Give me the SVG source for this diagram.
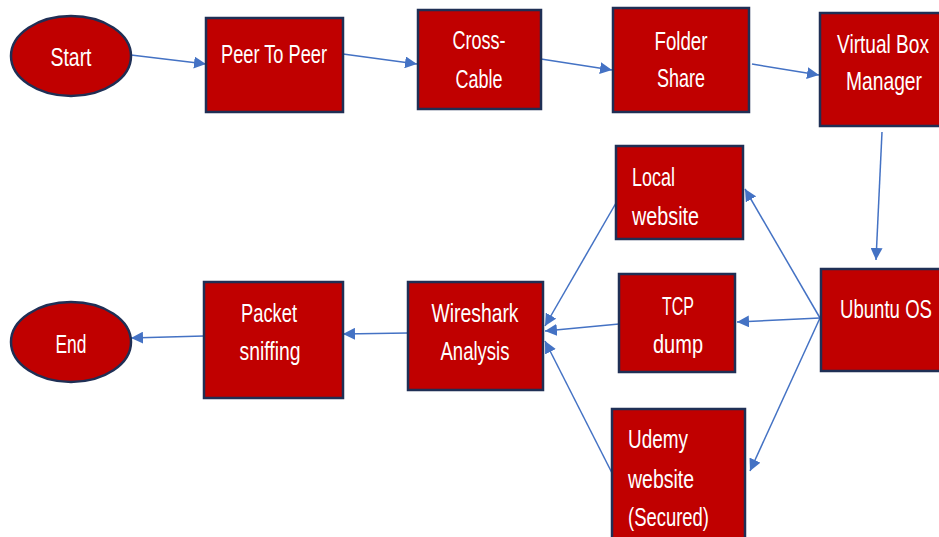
<svg xmlns="http://www.w3.org/2000/svg" width="939" height="537" viewBox="0 0 939 537">
<style>
.n{fill:#C00000;stroke:#1F2F55;stroke-width:2.5}
.t{fill:#fff;font-family:"Liberation Sans",sans-serif;font-size:26px}
.m{text-anchor:middle}
.c{stroke:#4472C4;stroke-width:1.5;fill:none;marker-end:url(#a)}
</style>
<defs>
<marker id="a" viewBox="0 0 10 10" refX="10" refY="5" markerWidth="12" markerHeight="12" markerUnits="userSpaceOnUse" orient="auto">
<path d="M0,0 L10,5 L0,10 z" fill="#4472C4"/>
</marker>
</defs>
<g id="connectors">
<line class="c" x1="131" y1="55" x2="206" y2="64"/>
<line class="c" x1="343" y1="54" x2="417" y2="64"/>
<line class="c" x1="541" y1="59" x2="612" y2="70"/>
<line class="c" x1="752" y1="64" x2="819" y2="75"/>
<line class="c" x1="882" y1="132" x2="876" y2="260"/>
<line class="c" x1="820" y1="318" x2="745" y2="189"/>
<line class="c" x1="820" y1="318" x2="737" y2="322"/>
<line class="c" x1="820" y1="318" x2="750" y2="471"/>
<line class="c" x1="616" y1="203" x2="545" y2="326"/>
<line class="c" x1="619" y1="324" x2="545" y2="331"/>
<line class="c" x1="612" y1="473" x2="545" y2="341"/>
<line class="c" x1="408" y1="333" x2="343" y2="334"/>
<line class="c" x1="204" y1="336" x2="131" y2="338"/>
</g>
<g id="start"><ellipse class="n" cx="71" cy="56" rx="60" ry="40"/><text class="t m" x="71" y="66" textLength="41" lengthAdjust="spacingAndGlyphs">Start</text></g>
<g id="peer"><rect class="n" x="206" y="18" width="137" height="94"/><text class="t m" x="274" y="63" textLength="106" lengthAdjust="spacingAndGlyphs">Peer To Peer</text></g>
<g id="cross"><rect class="n" x="418" y="10" width="123" height="99"/><text class="t m" x="479" y="49" textLength="53" lengthAdjust="spacingAndGlyphs">Cross-</text><text class="t m" x="479" y="88" textLength="47" lengthAdjust="spacingAndGlyphs">Cable</text></g>
<g id="folder"><rect class="n" x="613" y="8" width="136" height="104"/><text class="t m" x="681" y="50" textLength="53" lengthAdjust="spacingAndGlyphs">Folder</text><text class="t m" x="681" y="87" textLength="48" lengthAdjust="spacingAndGlyphs">Share</text></g>
<g id="vbm"><rect class="n" x="820" y="13" width="125" height="113"/><text class="t m" x="883" y="53" textLength="92" lengthAdjust="spacingAndGlyphs">Virtual Box</text><text class="t m" x="884" y="90" textLength="76" lengthAdjust="spacingAndGlyphs">Manager</text></g>
<g id="local"><rect class="n" x="616" y="146" width="127" height="93"/><text class="t" x="632" y="186" textLength="43" lengthAdjust="spacingAndGlyphs">Local</text><text class="t" x="632" y="225" textLength="67" lengthAdjust="spacingAndGlyphs">website</text></g>
<g id="tcp"><rect class="n" x="619" y="274" width="116" height="98"/><text class="t m" x="678" y="315" textLength="32" lengthAdjust="spacingAndGlyphs">TCP</text><text class="t m" x="678" y="353" textLength="50" lengthAdjust="spacingAndGlyphs">dump</text></g>
<g id="ubuntu"><rect class="n" x="821" y="269" width="125" height="102"/><text class="t" x="840" y="318" textLength="92" lengthAdjust="spacingAndGlyphs">Ubuntu OS</text></g>
<g id="udemy"><rect class="n" x="612" y="409" width="133" height="135"/><text class="t" x="628" y="448" textLength="60" lengthAdjust="spacingAndGlyphs">Udemy</text><text class="t" x="628" y="488" textLength="66" lengthAdjust="spacingAndGlyphs">website</text><text class="t" x="628" y="526" textLength="81" lengthAdjust="spacingAndGlyphs">(Secured)</text></g>
<g id="wireshark"><rect class="n" x="408" y="282" width="135" height="108"/><text class="t m" x="475" y="322" textLength="87" lengthAdjust="spacingAndGlyphs">Wireshark</text><text class="t m" x="475" y="360" textLength="69" lengthAdjust="spacingAndGlyphs">Analysis</text></g>
<g id="packet"><rect class="n" x="204" y="282" width="139" height="116"/><text class="t m" x="269" y="322" textLength="56" lengthAdjust="spacingAndGlyphs">Packet</text><text class="t m" x="270" y="360" textLength="61" lengthAdjust="spacingAndGlyphs">sniffing</text></g>
<g id="end"><ellipse class="n" cx="71" cy="342" rx="60" ry="40"/><text class="t m" x="71" y="353" textLength="31" lengthAdjust="spacingAndGlyphs">End</text></g>
</svg>
